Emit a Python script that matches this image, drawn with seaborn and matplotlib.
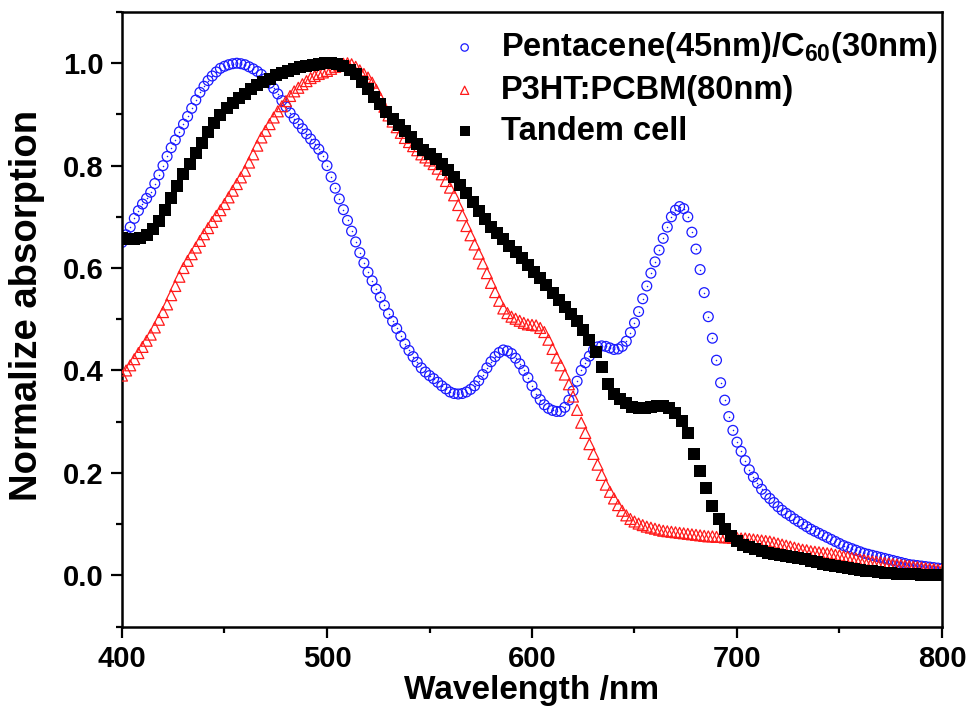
import numpy as np
import pandas as pd
import matplotlib
matplotlib.use("Agg")
import matplotlib.pyplot as plt
import seaborn as sns
from matplotlib.ticker import MultipleLocator, FormatStrFormatter

# ---------------- data ----------------
series_labels = ["Pentacene(45nm)/C$_\\mathregular{60}$(30nm)", "P3HT:PCBM(80nm)", "Tandem cell"]

# Pentacene(45nm)/C60(30nm): 400..800 nm, every 2 nm
pentacene_start_nm = 400
pentacene_step_nm = 2
pentacene_abs = [
    0.650, 0.665, 0.680, 0.697, 0.712, 0.725, 0.736, 0.748, 0.765, 0.782,
    0.800, 0.818, 0.835, 0.850, 0.866, 0.881, 0.896, 0.912, 0.928, 0.943,
    0.955, 0.966, 0.975, 0.983, 0.990, 0.994, 0.997, 0.999, 1.000, 0.999,
    0.997, 0.993, 0.989, 0.984, 0.978, 0.970, 0.961, 0.951, 0.940, 0.927,
    0.915, 0.903, 0.892, 0.882, 0.872, 0.862, 0.852, 0.842, 0.832, 0.818,
    0.800, 0.778, 0.756, 0.735, 0.714, 0.693, 0.672, 0.651, 0.630, 0.610,
    0.592, 0.575, 0.559, 0.543, 0.527, 0.511, 0.496, 0.482, 0.467, 0.452,
    0.439, 0.427, 0.416, 0.405, 0.397, 0.390, 0.384, 0.377, 0.370, 0.364,
    0.358, 0.355, 0.354, 0.355, 0.358, 0.363, 0.370, 0.380, 0.392, 0.405,
    0.417, 0.427, 0.435, 0.440, 0.438, 0.433, 0.424, 0.413, 0.400, 0.386,
    0.370, 0.355, 0.343, 0.333, 0.326, 0.322, 0.320, 0.320, 0.328, 0.342,
    0.360, 0.379, 0.400, 0.415, 0.428, 0.440, 0.446, 0.448, 0.447, 0.444,
    0.441, 0.442, 0.447, 0.457, 0.474, 0.493, 0.515, 0.540, 0.565, 0.590,
    0.612, 0.635, 0.658, 0.680, 0.700, 0.713, 0.720, 0.716, 0.700, 0.670,
    0.637, 0.597, 0.552, 0.505, 0.463, 0.420, 0.376, 0.342, 0.310, 0.283,
    0.260, 0.242, 0.224, 0.206, 0.192, 0.180, 0.168, 0.158, 0.150, 0.142,
    0.134, 0.127, 0.121, 0.116, 0.110, 0.105, 0.100, 0.095, 0.090, 0.086,
    0.082, 0.078, 0.074, 0.070, 0.066, 0.062, 0.058, 0.055, 0.052, 0.049,
    0.046, 0.043, 0.041, 0.039, 0.037, 0.035, 0.033, 0.031, 0.029, 0.027,
    0.025, 0.023, 0.021, 0.020, 0.019, 0.018, 0.017, 0.016, 0.015, 0.014,
    0.013,
]

# P3HT:PCBM(80nm): 400..800 nm, every 2 nm
p3ht_start_nm = 400
p3ht_step_nm = 2
p3ht_abs = [
    0.390, 0.400, 0.410, 0.422, 0.434, 0.446, 0.458, 0.470, 0.484, 0.499,
    0.514, 0.529, 0.547, 0.565, 0.583, 0.600, 0.614, 0.627, 0.640, 0.653,
    0.666, 0.678, 0.690, 0.702, 0.713, 0.725, 0.738, 0.751, 0.764, 0.777,
    0.790, 0.806, 0.822, 0.839, 0.855, 0.868, 0.881, 0.894, 0.906, 0.916,
    0.926, 0.936, 0.945, 0.952, 0.959, 0.965, 0.971, 0.975, 0.979, 0.982,
    0.985, 0.989, 0.993, 0.996, 0.999, 1.000, 0.998, 0.993, 0.986, 0.979,
    0.972, 0.962, 0.948, 0.932, 0.915, 0.898, 0.886, 0.875, 0.864, 0.854,
    0.846, 0.838, 0.830, 0.822, 0.816, 0.810, 0.803, 0.794, 0.783, 0.770,
    0.757, 0.742, 0.723, 0.703, 0.682, 0.664, 0.646, 0.628, 0.609, 0.590,
    0.571, 0.553, 0.536, 0.521, 0.512, 0.505, 0.501, 0.497, 0.493, 0.490,
    0.489, 0.488, 0.483, 0.475, 0.460, 0.442, 0.425, 0.410, 0.392, 0.373,
    0.349, 0.323, 0.298, 0.278, 0.256, 0.237, 0.216, 0.196, 0.177, 0.163,
    0.150, 0.137, 0.126, 0.117, 0.110, 0.105, 0.101, 0.098, 0.095, 0.093,
    0.091, 0.089, 0.087, 0.086, 0.085, 0.084, 0.083, 0.082, 0.081, 0.080,
    0.079, 0.078, 0.077, 0.076, 0.076, 0.075, 0.075, 0.074, 0.074, 0.073,
    0.073, 0.072, 0.072, 0.071, 0.070, 0.069, 0.068, 0.067, 0.066, 0.064,
    0.062, 0.060, 0.058, 0.056, 0.054, 0.052, 0.050, 0.049, 0.047, 0.046,
    0.045, 0.044, 0.043, 0.042, 0.040, 0.039, 0.037, 0.036, 0.034, 0.033,
    0.031, 0.030, 0.028, 0.027, 0.026, 0.025, 0.024, 0.023, 0.022, 0.021,
    0.020, 0.019, 0.018, 0.017, 0.016, 0.015, 0.014, 0.013, 0.012, 0.011,
    0.010,
]

# Tandem cell: 400..799 nm, every 3 nm
tandem_start_nm = 400
tandem_step_nm = 3
tandem_abs = [
    0.658, 0.656, 0.656, 0.658, 0.664, 0.676, 0.692, 0.714, 0.737, 0.760,
    0.783, 0.804, 0.824, 0.845, 0.866, 0.884, 0.899, 0.912, 0.923, 0.933,
    0.940, 0.949, 0.957, 0.963, 0.970, 0.977, 0.981, 0.985, 0.989, 0.992,
    0.995, 0.997, 0.998, 1.000, 1.000, 0.998, 0.994, 0.987, 0.978, 0.963,
    0.949, 0.934, 0.920, 0.905, 0.892, 0.879, 0.867, 0.855, 0.843, 0.831,
    0.822, 0.813, 0.803, 0.791, 0.778, 0.763, 0.746, 0.729, 0.712, 0.696,
    0.681, 0.668, 0.656, 0.644, 0.632, 0.620, 0.606, 0.592, 0.580, 0.567,
    0.552, 0.537, 0.524, 0.511, 0.497, 0.479, 0.459, 0.437, 0.406, 0.374,
    0.355, 0.344, 0.336, 0.329, 0.326, 0.326, 0.328, 0.331, 0.331, 0.326,
    0.317, 0.302, 0.277, 0.237, 0.203, 0.170, 0.136, 0.110, 0.090, 0.077,
    0.066, 0.060, 0.055, 0.051, 0.047, 0.044, 0.041, 0.039, 0.037, 0.035,
    0.033, 0.031, 0.028, 0.025, 0.023, 0.020, 0.018, 0.016, 0.014, 0.012,
    0.010, 0.009, 0.008, 0.007, 0.005, 0.004, 0.003, 0.003, 0.002, 0.002,
    0.001, 0.001, 0.000, 0.000,
]

x_tick_values = [400, 500, 600, 700, 800]
y_tick_values = [0.0, 0.2, 0.4, 0.6, 0.8, 1.0]
x_label = "Wavelength /nm"
y_label = "Normalize absorption"

# ---------------- build tables ----------------
df_pen = pd.DataFrame({
    "wl": pentacene_start_nm + pentacene_step_nm * np.arange(len(pentacene_abs)),
    "abs": pentacene_abs})
df_p3ht = pd.DataFrame({
    "wl": p3ht_start_nm + p3ht_step_nm * np.arange(len(p3ht_abs)),
    "abs": p3ht_abs})
df_tan = pd.DataFrame({
    "wl": tandem_start_nm + tandem_step_nm * np.arange(len(tandem_abs)),
    "abs": tandem_abs})

# ---------------- style ----------------
sns.set_style("ticks")
plt.rcParams["font.family"] = ["Liberation Sans", "DejaVu Sans"]
plt.rcParams["mathtext.fontset"] = "custom"
plt.rcParams["mathtext.rm"] = "Liberation Sans"
plt.rcParams["mathtext.it"] = "Liberation Sans"
plt.rcParams["mathtext.bf"] = "Liberation Sans:bold"
for key in ["text.color", "axes.labelcolor", "xtick.color", "ytick.color",
            "axes.edgecolor", "xtick.labelcolor", "ytick.labelcolor"]:
    plt.rcParams[key] = "black"

fig = plt.figure(figsize=(9.69, 7.17), dpi=100)
fig.patch.set_facecolor("white")
ax = fig.add_axes([122 / 969, 1 - 626.5 / 717, 820 / 969, 614.5 / 717])
ax.set_facecolor("white")

sns.scatterplot(data=df_pen, x="wl", y="abs", marker="o", s=50,
                facecolor="none", edgecolor="#1a1aff", linewidth=0.9,
                label=series_labels[0], ax=ax, zorder=2)
sns.scatterplot(data=df_pen, x="wl", y="abs", marker="o", s=1.2,
                color="#1a1aff", linewidth=0, ax=ax, zorder=2, legend=False)
sns.scatterplot(data=df_p3ht, x="wl", y="abs", marker="^", s=62,
                facecolor="none", edgecolor="#ff1a1a", linewidth=0.9,
                label=series_labels[1], ax=ax, zorder=3)
sns.scatterplot(data=df_tan, x="wl", y="abs", marker="s", s=80,
                color="black", edgecolor="black", linewidth=0,
                label=series_labels[2], ax=ax, zorder=4)

ax.set_xlim(400, 800)
ax.set_ylim(-0.1, 1.1)
ax.set_xticks(x_tick_values)
ax.set_yticks(y_tick_values)
ax.xaxis.set_minor_locator(MultipleLocator(50))
ax.yaxis.set_minor_locator(MultipleLocator(0.1))
ax.yaxis.set_major_formatter(FormatStrFormatter("%.1f"))

for sp in ax.spines.values():
    sp.set_linewidth(1.8)
    sp.set_color("black")
    sp.set_visible(True)

ax.tick_params(axis="both", which="major", direction="out", length=8,
               width=1.6, labelsize=21, pad=5, colors="black",
               top=False, right=False)
ax.tick_params(axis="both", which="minor", direction="out", length=4.5,
               width=1.6, colors="black", top=False, right=False)
for t in ax.get_xticklabels() + ax.get_yticklabels():
    t.set_fontweight("bold")

ax.set_xlabel(x_label, fontsize=24, fontweight="bold", labelpad=2, color="black")
ax.set_ylabel(y_label, fontsize=27.5, fontweight="bold", color="black")
ax.yaxis.set_label_coords(-0.094, 0.523)

leg = ax.legend(loc="upper left", bbox_to_anchor=(432 / 969, 1 - 17 / 717),
                bbox_transform=fig.transFigure, frameon=False,
                prop={"size": 23.5, "weight": "bold"}, handletextpad=0.5,
                labelspacing=0.3, markerscale=0.75, borderaxespad=0,
                handlelength=1.2)
for txt in leg.get_texts():
    txt.set_color("black")

fig.savefig("out.png", dpi=100, facecolor="white")
